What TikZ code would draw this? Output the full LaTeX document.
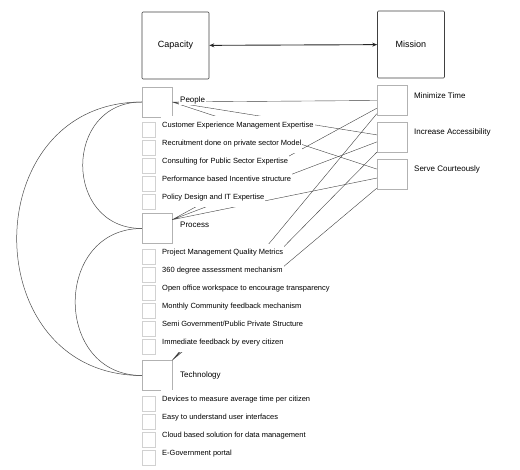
\documentclass[tikz,border=0pt]{standalone}
\usepackage{fontspec}
\setmainfont{Liberation Sans}
\usetikzlibrary{arrows.meta}
\tikzset{
  bigbox/.style={draw=black!75, line width=0.6pt, rounded corners=1pt, minimum width=67pt, minimum height=67pt, inner sep=0pt, font=\fontsize{9}{10}\selectfont},
  groupbox/.style={draw=black!30, minimum width=30pt, minimum height=30pt, inner sep=0pt},
  itembox/.style={draw=black!18, minimum width=12.5pt, minimum height=15pt, inner sep=0pt, anchor=north west},
  grouplabel/.style={anchor=west, fill=white, inner sep=1pt, font=\fontsize{8}{9}\selectfont},
  itemlabel/.style={anchor=west, fill=white, inner xsep=1pt, inner ysep=5.6pt, text height=5.5pt, text depth=1.5pt, font=\fontsize{7.5}{8}\selectfont},
  link/.style={draw=black!75, line width=0.4pt},
  curveline/.style={draw=black!70, line width=0.5pt}
}
\begin{document}
\begin{tikzpicture}[x=1pt,y=-1pt]
\useasboundingbox (0,0) rectangle (520,470);
\node[bigbox] (capacity) at (175.5,45.5) {Capacity};
\node[bigbox] (mission) at (411,44.5) {Mission};
\draw[{Stealth[length=5pt,width=4pt]}-{Stealth[length=5pt,width=4pt]}, draw=black!85, line width=0.9pt] (capacity) -- (mission);

\node[groupbox] (people) at (157,102) {};
\node[groupbox] (process) at (157,228.5) {};
\node[groupbox] (technology) at (157,375.5) {};
\node[groupbox] (mintime) at (392,100.5) {};
\node[groupbox] (access) at (392,137) {};
\node[groupbox] (courteous) at (392,174) {};

\foreach \from/\a/\b/\c in {people.east/180/172/162, process.30/207/198/195, technology.north east/221/south west/223}
  \draw[link] (\from) -- (mintime.\a) (\from) -- (access.\b) (\from) -- (courteous.\c);

\draw[curveline] (people.west) .. controls (63,102) and (63,228.5) .. (process.west);
\draw[curveline] (people.west) .. controls (-25,102) and (-25,375.5) .. (technology.west);
\draw[curveline] (process.west) .. controls (53,228.5) and (53,375.5) .. (technology.west);

\node[grouplabel] (peoplelabel) at (179,100) {People};
\node[grouplabel] (processlabel) at (179,225) {Process};
\node[grouplabel] (technologylabel) at (179,375) {Technology};
\node[grouplabel] (mintimelabel) at (413,96) {Minimize Time};
\node[grouplabel] (accesslabel) at (413,132) {Increase Accessibility};
\node[grouplabel] (courteouslabel) at (413,169) {Serve Courteously};

\foreach \txt [count=\i] in {Customer Experience Management Expertise, Recruitment done on private sector Model, Consulting for Public Sector Expertise, Performance based Incentive structure, Policy Design and IT Expertise}{
  \node[itembox] (peopleitem\i) at (142,{104+18*\i}) {};
  \node[itemlabel] (peopletext\i) at (161,{107.5+18*\i}) {\txt};
}
\foreach \txt [count=\i] in {Project Management Quality Metrics, 360 degree assessment mechanism, Open office workspace to encourage transparency, Monthly Community feedback mechanism, Semi Government/Public Private Structure, Immediate feedback by every citizen}{
  \node[itembox] (processitem\i) at (142,{231+18*\i}) {};
  \node[itemlabel] (processtext\i) at (161,{235+18*\i}) {\txt};
}
\foreach \txt [count=\i] in {Devices to measure average time per citizen, Easy to understand user interfaces, Cloud based solution for data management, E-Government portal}{
  \node[itembox] (techitem\i) at (142,{378+18*\i}) {};
  \node[itemlabel] (techtext\i) at (161,{381.5+18*\i}) {\txt};
}
\end{tikzpicture}
\end{document}
